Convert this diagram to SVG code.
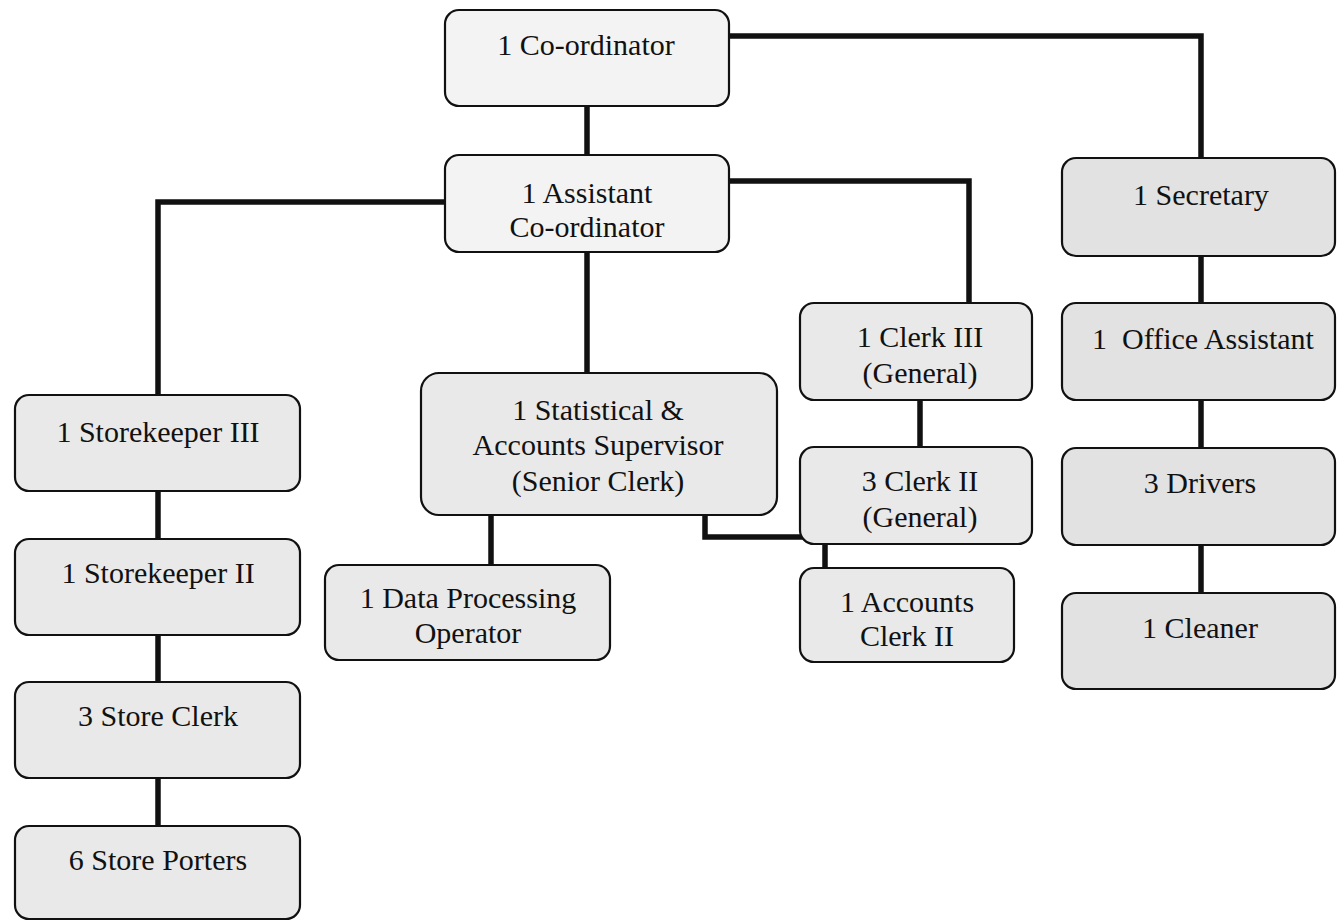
<svg xmlns="http://www.w3.org/2000/svg" width="1337" height="921" viewBox="0 0 1337 921">
<style>
.box{stroke:#111;stroke-width:2.2;fill:#e9e9e9}
.lt{fill:#f3f3f3}
.dk{fill:#e2e2e2}
.t{font-family:"Liberation Serif","Times New Roman",serif;font-size:30px;fill:#111;text-anchor:middle}
.c{fill:none;stroke:#111;stroke-width:5.5;stroke-linejoin:miter}
</style>
<rect width="1337" height="921" fill="#ffffff"/>
<g id="connectors">
<path class="c" d="M587 106 V155"/>
<path class="c" d="M729 36 H1201 V158"/>
<path class="c" d="M1201 256 V303"/>
<path class="c" d="M1201 400 V448"/>
<path class="c" d="M1201 545 V593"/>
<path class="c" d="M729 181 H969 V303"/>
<path class="c" d="M920 400 V447"/>
<path class="c" d="M445 202 H158 V395"/>
<path class="c" d="M158 491 V539"/>
<path class="c" d="M158 635 V682"/>
<path class="c" d="M158 778 V826"/>
<path class="c" d="M587 252 V373"/>
<path class="c" d="M491 515 V565"/>
<path class="c" d="M705 515 V537 H825 V568"/>
</g>
<g id="coordinator"><rect class="box lt" x="445" y="10" width="284" height="96" rx="14"/><text class="t" x="586" y="55">1 Co-ordinator</text></g>
<g id="assistant"><rect class="box lt" x="445" y="155" width="284" height="97" rx="14"/><text class="t" x="587" y="203">1 Assistant</text><text class="t" x="587" y="237">Co-ordinator</text></g>
<g id="secretary"><rect class="box dk" x="1062" y="158" width="273" height="98" rx="14"/><text class="t" x="1201" y="205">1 Secretary</text></g>
<g id="office-assistant"><rect class="box dk" x="1062" y="303" width="273" height="97" rx="14"/><text class="t" x="1203" y="349" xml:space="preserve">1  Office Assistant</text></g>
<g id="drivers"><rect class="box dk" x="1062" y="448" width="273" height="97" rx="14"/><text class="t" x="1200" y="493">3 Drivers</text></g>
<g id="cleaner"><rect class="box dk" x="1062" y="593" width="273" height="96" rx="14"/><text class="t" x="1200" y="638">1 Cleaner</text></g>
<g id="clerk3"><rect class="box" x="800" y="303" width="232" height="97" rx="14"/><text class="t" x="920" y="347">1 Clerk III</text><text class="t" x="920" y="383">(General)</text></g>
<g id="clerk2"><rect class="box" x="800" y="447" width="232" height="97" rx="14"/><text class="t" x="920" y="491">3 Clerk II</text><text class="t" x="920" y="527">(General)</text></g>
<g id="accounts-clerk"><rect class="box" x="800" y="568" width="214" height="94" rx="14"/><text class="t" x="907" y="612">1 Accounts</text><text class="t" x="907" y="646">Clerk II</text></g>
<g id="statistical"><rect class="box" x="421" y="373" width="356" height="142" rx="18"/><text class="t" x="598" y="420">1 Statistical &amp;</text><text class="t" x="598" y="455">Accounts Supervisor</text><text class="t" x="598" y="491">(Senior Clerk)</text></g>
<g id="data-processing"><rect class="box" x="325" y="565" width="285" height="95" rx="14"/><text class="t" x="468" y="608">1 Data Processing</text><text class="t" x="468" y="643">Operator</text></g>
<g id="storekeeper3"><rect class="box" x="15" y="395" width="285" height="96" rx="14"/><text class="t" x="158" y="442">1 Storekeeper III</text></g>
<g id="storekeeper2"><rect class="box" x="15" y="539" width="285" height="96" rx="14"/><text class="t" x="158" y="583">1 Storekeeper II</text></g>
<g id="store-clerk"><rect class="box" x="15" y="682" width="285" height="96" rx="14"/><text class="t" x="158" y="726">3 Store Clerk</text></g>
<g id="store-porters"><rect class="box" x="15" y="826" width="285" height="93" rx="14"/><text class="t" x="158" y="870">6 Store Porters</text></g>
</svg>
